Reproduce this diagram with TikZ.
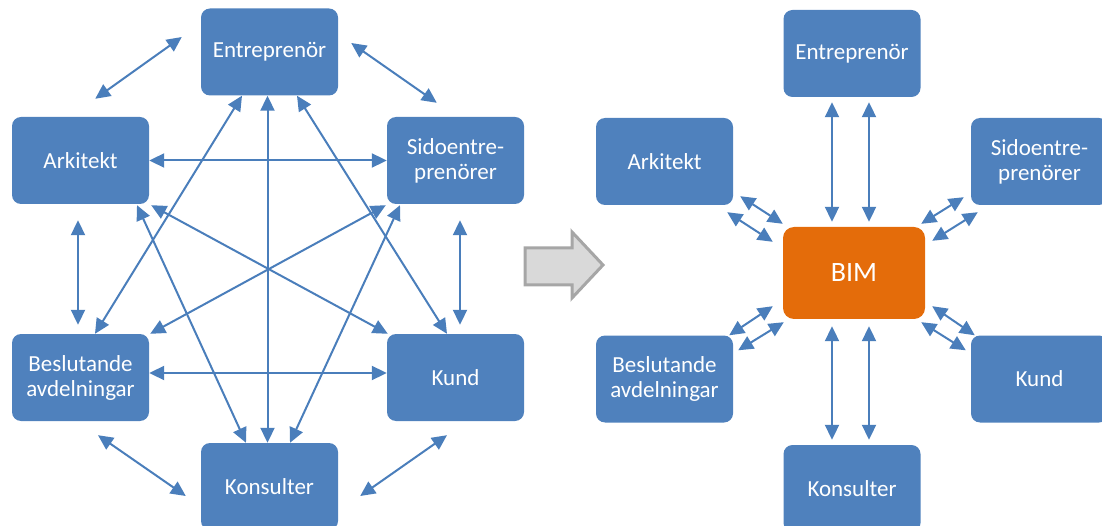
\documentclass[tikz,border=0pt]{standalone}
\usepackage{fontspec}
\setmainfont{Carlito}
\usetikzlibrary{arrows.meta,calc}
\definecolor{boxblue}{HTML}{4F81BD}
\definecolor{arrblue}{HTML}{4A7EBB}
\definecolor{bimorange}{HTML}{E46C0A}
\definecolor{grayfill}{HTML}{D9D9D9}
\definecolor{grayline}{HTML}{A6A6A6}
\begin{document}
\begin{tikzpicture}[x=1pt,y=-1pt,
  box/.style={fill=boxblue, rounded corners=9pt, minimum width=137pt, minimum height=87pt,
    inner sep=0pt, text=white, font=\fontsize{23}{25}\selectfont, align=center},
  bimbox/.style={fill=bimorange, rounded corners=11pt, minimum width=142pt, minimum height=92pt,
    inner sep=0pt, text=white, font=\fontsize{28}{32}\selectfont},
  dbl/.style={draw=arrblue, line width=2pt,
    {Triangle[length=15pt,width=14pt]}-{Triangle[length=15pt,width=14pt]}},
  bigarrow/.style={draw=grayline, fill=grayfill, line width=3pt, line join=miter}
]
\useasboundingbox (0,0) rectangle (1102,526);

% ---------- left diagram ----------
\node[box] (E1) at (269.5,52) {Entreprenör};
\node[box] (A1) at (80.5,160.5) {Arkitekt};
\node[box] (S1) at (455.5,160.5) {Sidoentre-\\prenörer};
\node[box] (B1) at (80.5,377.5) {Beslutande\\avdelningar};
\node[box] (K1) at (455.5,377.5) {Kund};
\node[box] (C1) at (269.5,486.5) {Konsulter};

% free-standing arrows between neighbours
\coordinate (ae1) at ($(A1.north east)+(-54,-18)$);
\coordinate (ae2) at ($(E1.west)+(-19,-15)$);
\coordinate (es1) at ($(E1.east)+(13,-9)$);
\coordinate (es2) at ($(S1.north west)+(50,-14)$);
\coordinate (ab1) at ($(A1.south)+(-2.5,16)$);
\coordinate (ab2) at ($(B1.north)+(-2.5,-9)$);
\coordinate (sk1) at ($(S1.south)+(4.5,16)$);
\coordinate (sk2) at ($(K1.north)+(4.5,-9)$);
\coordinate (bc1) at ($(B1.south)+(17.5,14)$);
\coordinate (bc2) at ($(C1.west)+(-15,9.5)$);
\coordinate (kc1) at ($(K1.south)+(-8.5,14)$);
\coordinate (kc2) at ($(C1.east)+(22,9.5)$);
\draw[dbl] (ae1) -- (ae2);
\draw[dbl] (es1) -- (es2);
\draw[dbl] (ab1) -- (ab2);
\draw[dbl] (sk1) -- (sk2);
\draw[dbl] (bc1) -- (bc2);
\draw[dbl] (kc1) -- (kc2);

% arrows touching boxes
\draw[dbl] (A1.east) -- (S1.west);
\draw[dbl] ($(B1.east)+(0,-4.5)$) -- ($(K1.west)+(0,-4.5)$);
\draw[dbl] ($(E1.south)+(-2,0)$) -- ($(C1.north)+(-2,0)$);
\draw[dbl] ($(E1.south)+(-27.5,0)$) -- ($(B1.north)+(14.5,0)$);
\draw[dbl] ($(E1.south)+(27.5,0)$) -- ($(K1.north)+(-8.5,0)$);
\draw[dbl] ($(A1.south)+(56.5,1)$) -- ($(C1.north)+(-23.5,0)$);
\draw[dbl] ($(A1.south east)+(2,1)$) -- ($(K1.north west)+(1,0)$);
\draw[dbl] ($(S1.south west)+(-1,1)$) -- ($(B1.north east)+(1,0)$);
\draw[dbl] ($(S1.south)+(-55.5,1)$) -- ($(C1.north)+(20.5,0)$);

% ---------- big gray arrow ----------
\draw[bigarrow] (525,248) -- (572,248) -- (572,232) -- (603,265) -- (572,298) -- (572,285) -- (525,285) -- cycle;

% ---------- right diagram ----------
\node[box] (E2) at (852,53.5) {Entreprenör};
\node[box] (A2) at (664.5,161.5) {Arkitekt};
\node[box] (S2) at (1039.5,161.5) {Sidoentre-\\prenörer};
\node[bimbox] (BIM) at (854,273) {BIM};
\node[box] (B2) at (664.5,379) {Beslutande\\avdelningar};
\node[box] (K2) at (1039.5,379) {Kund};
\node[box] (C2) at (852,488.5) {Konsulter};

\coordinate (eb1a) at ($(E2.south)+(-20,5)$);
\coordinate (eb1b) at ($(BIM.north)+(-22,-5)$);
\coordinate (eb2a) at ($(E2.south)+(17,5)$);
\coordinate (eb2b) at ($(BIM.north)+(15,-5)$);
\draw[dbl] (eb1a) -- (eb1b);
\draw[dbl] (eb2a) -- (eb2b);

\coordinate (ab1a) at ($(A2.south east)+(7,-9)$);
\coordinate (ab1b) at ($(BIM.north west)+(0,-3)$);
\coordinate (ab2a) at ($(A2.south east)+(-6,7)$);
\coordinate (ab2b) at ($(BIM.north west)+(-10,15)$);
\draw[dbl] (ab1a) -- (ab1b);
\draw[dbl] (ab2a) -- (ab2b);

\coordinate (sb1a) at ($(S2.south west)+(-7,-8)$);
\coordinate (sb1b) at ($(BIM.north east)+(-4,-3)$);
\coordinate (sb2a) at ($(S2.south west)+(7,7)$);
\coordinate (sb2b) at ($(BIM.north east)+(7,14)$);
\draw[dbl] (sb1a) -- (sb1b);
\draw[dbl] (sb2a) -- (sb2b);

\coordinate (bb1a) at ($(BIM.south west)+(-10,-13)$);
\coordinate (bb1b) at ($(B2.north east)+(-4,0)$);
\coordinate (bb2a) at ($(BIM.south west)+(1,3)$);
\coordinate (bb2b) at ($(B2.north east)+(5,15)$);
\draw[dbl] (bb1a) -- (bb1b);
\draw[dbl] (bb2a) -- (bb2b);

\coordinate (kb1a) at ($(BIM.south east)+(7,-13)$);
\coordinate (kb1b) at ($(K2.north west)+(4,0)$);
\coordinate (kb2a) at ($(BIM.south east)+(-4,3)$);
\coordinate (kb2b) at ($(K2.north west)+(-5,15)$);
\draw[dbl] (kb1a) -- (kb1b);
\draw[dbl] (kb2a) -- (kb2b);

\coordinate (cb1a) at ($(BIM.south)+(-22,7)$);
\coordinate (cb1b) at ($(C2.north)+(-20,-5)$);
\coordinate (cb2a) at ($(BIM.south)+(15,7)$);
\coordinate (cb2b) at ($(C2.north)+(17,-5)$);
\draw[dbl] (cb1a) -- (cb1b);
\draw[dbl] (cb2a) -- (cb2b);
\end{tikzpicture}
\end{document}
